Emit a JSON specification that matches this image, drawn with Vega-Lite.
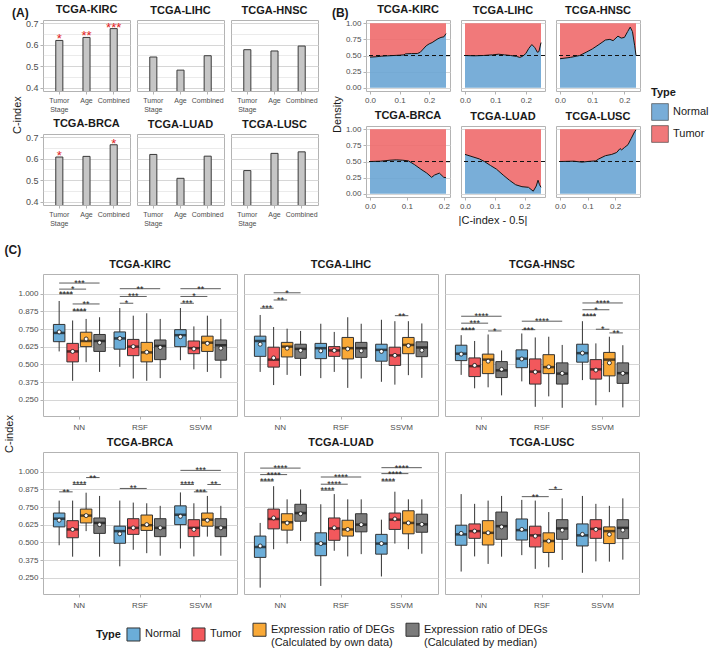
{
  "$schema": "https://vega.github.io/schema/vega-lite/v6.json",
  "padding": {"left": 4, "top": 3, "right": 4, "bottom": 2},
  "background": "white",
  "config": {
    "font": "Liberation Sans",
    "view": {"stroke": "#b3b3b3", "strokeWidth": 1},
    "axis": {"labelFontSize": 8, "labelColor": "#4d4d4d", "titleFontSize": 11, "titleFontWeight": "normal", "titleColor": "#1a1a1a", "gridColor": "#d6d6d6", "domain": false, "tickColor": "#b3b3b3", "tickSize": 3, "labelPadding": 2, "labelOverlap": false},
    "title": {"fontSize": 12, "fontWeight": "bold", "anchor": "start", "color": "#1a1a1a"},
    "legend": {"titleFontSize": 11, "titleFontWeight": "bold", "labelFontSize": 11, "labelColor": "#1a1a1a", "titleColor": "#1a1a1a", "layout": {"bottom": {"anchor": "middle"}, "right": {"anchor": "middle"}}}
  },
  "datasets": {
    "A": [
      {"cancer": "TCGA-KIRC", "feature": "Tumor Stage", "cindex": 0.62, "sig": "*"},
      {"cancer": "TCGA-KIRC", "feature": "Age", "cindex": 0.634, "sig": "**"},
      {"cancer": "TCGA-KIRC", "feature": "Combined", "cindex": 0.675, "sig": "***"},
      {"cancer": "TCGA-LIHC", "feature": "Tumor Stage", "cindex": 0.543, "sig": ""},
      {"cancer": "TCGA-LIHC", "feature": "Age", "cindex": 0.482, "sig": ""},
      {"cancer": "TCGA-LIHC", "feature": "Combined", "cindex": 0.549, "sig": ""},
      {"cancer": "TCGA-HNSC", "feature": "Tumor Stage", "cindex": 0.577, "sig": ""},
      {"cancer": "TCGA-HNSC", "feature": "Age", "cindex": 0.571, "sig": ""},
      {"cancer": "TCGA-HNSC", "feature": "Combined", "cindex": 0.594, "sig": ""},
      {"cancer": "TCGA-BRCA", "feature": "Tumor Stage", "cindex": 0.608, "sig": "*"},
      {"cancer": "TCGA-BRCA", "feature": "Age", "cindex": 0.611, "sig": ""},
      {"cancer": "TCGA-BRCA", "feature": "Combined", "cindex": 0.665, "sig": "*"},
      {"cancer": "TCGA-LUAD", "feature": "Tumor Stage", "cindex": 0.62, "sig": ""},
      {"cancer": "TCGA-LUAD", "feature": "Age", "cindex": 0.509, "sig": ""},
      {"cancer": "TCGA-LUAD", "feature": "Combined", "cindex": 0.612, "sig": ""},
      {"cancer": "TCGA-LUSC", "feature": "Tumor Stage", "cindex": 0.545, "sig": ""},
      {"cancer": "TCGA-LUSC", "feature": "Age", "cindex": 0.625, "sig": ""},
      {"cancer": "TCGA-LUSC", "feature": "Combined", "cindex": 0.632, "sig": ""}
    ],
    "B": [
      {"cancer": "TCGA-KIRC", "x": 0, "normal": 0.475},
      {"cancer": "TCGA-KIRC", "x": 0.02, "normal": 0.48},
      {"cancer": "TCGA-KIRC", "x": 0.04, "normal": 0.49},
      {"cancer": "TCGA-KIRC", "x": 0.06, "normal": 0.495},
      {"cancer": "TCGA-KIRC", "x": 0.08, "normal": 0.5},
      {"cancer": "TCGA-KIRC", "x": 0.1, "normal": 0.505},
      {"cancer": "TCGA-KIRC", "x": 0.115, "normal": 0.51},
      {"cancer": "TCGA-KIRC", "x": 0.12, "normal": 0.525},
      {"cancer": "TCGA-KIRC", "x": 0.14, "normal": 0.53},
      {"cancer": "TCGA-KIRC", "x": 0.16, "normal": 0.53},
      {"cancer": "TCGA-KIRC", "x": 0.17, "normal": 0.55},
      {"cancer": "TCGA-KIRC", "x": 0.18, "normal": 0.6},
      {"cancer": "TCGA-KIRC", "x": 0.19, "normal": 0.65},
      {"cancer": "TCGA-KIRC", "x": 0.2, "normal": 0.68},
      {"cancer": "TCGA-KIRC", "x": 0.21, "normal": 0.7},
      {"cancer": "TCGA-KIRC", "x": 0.22, "normal": 0.73},
      {"cancer": "TCGA-KIRC", "x": 0.23, "normal": 0.76},
      {"cancer": "TCGA-KIRC", "x": 0.24, "normal": 0.78},
      {"cancer": "TCGA-KIRC", "x": 0.25, "normal": 0.79},
      {"cancer": "TCGA-KIRC", "x": 0.257, "normal": 0.84},
      {"cancer": "TCGA-LIHC", "x": 0, "normal": 0.5},
      {"cancer": "TCGA-LIHC", "x": 0.03, "normal": 0.495},
      {"cancer": "TCGA-LIHC", "x": 0.06, "normal": 0.5},
      {"cancer": "TCGA-LIHC", "x": 0.09, "normal": 0.51},
      {"cancer": "TCGA-LIHC", "x": 0.11, "normal": 0.52},
      {"cancer": "TCGA-LIHC", "x": 0.13, "normal": 0.51},
      {"cancer": "TCGA-LIHC", "x": 0.15, "normal": 0.5},
      {"cancer": "TCGA-LIHC", "x": 0.17, "normal": 0.485},
      {"cancer": "TCGA-LIHC", "x": 0.18, "normal": 0.47},
      {"cancer": "TCGA-LIHC", "x": 0.19, "normal": 0.49},
      {"cancer": "TCGA-LIHC", "x": 0.2, "normal": 0.53},
      {"cancer": "TCGA-LIHC", "x": 0.21, "normal": 0.61},
      {"cancer": "TCGA-LIHC", "x": 0.22, "normal": 0.67},
      {"cancer": "TCGA-LIHC", "x": 0.23, "normal": 0.62},
      {"cancer": "TCGA-LIHC", "x": 0.238, "normal": 0.55},
      {"cancer": "TCGA-LIHC", "x": 0.243, "normal": 0.56},
      {"cancer": "TCGA-LIHC", "x": 0.25, "normal": 0.7},
      {"cancer": "TCGA-HNSC", "x": 0, "normal": 0.45},
      {"cancer": "TCGA-HNSC", "x": 0.032, "normal": 0.47},
      {"cancer": "TCGA-HNSC", "x": 0.061, "normal": 0.5},
      {"cancer": "TCGA-HNSC", "x": 0.081, "normal": 0.55},
      {"cancer": "TCGA-HNSC", "x": 0.1, "normal": 0.6},
      {"cancer": "TCGA-HNSC", "x": 0.121, "normal": 0.67},
      {"cancer": "TCGA-HNSC", "x": 0.141, "normal": 0.74},
      {"cancer": "TCGA-HNSC", "x": 0.155, "normal": 0.75},
      {"cancer": "TCGA-HNSC", "x": 0.165, "normal": 0.73},
      {"cancer": "TCGA-HNSC", "x": 0.18, "normal": 0.8},
      {"cancer": "TCGA-HNSC", "x": 0.19, "normal": 0.77},
      {"cancer": "TCGA-HNSC", "x": 0.2, "normal": 0.78},
      {"cancer": "TCGA-HNSC", "x": 0.21, "normal": 0.87},
      {"cancer": "TCGA-HNSC", "x": 0.218, "normal": 0.94},
      {"cancer": "TCGA-HNSC", "x": 0.225, "normal": 0.87},
      {"cancer": "TCGA-HNSC", "x": 0.232, "normal": 0.65},
      {"cancer": "TCGA-HNSC", "x": 0.236, "normal": 0.5},
      {"cancer": "TCGA-BRCA", "x": 0, "normal": 0.5},
      {"cancer": "TCGA-BRCA", "x": 0.029, "normal": 0.505},
      {"cancer": "TCGA-BRCA", "x": 0.054, "normal": 0.52},
      {"cancer": "TCGA-BRCA", "x": 0.071, "normal": 0.525},
      {"cancer": "TCGA-BRCA", "x": 0.088, "normal": 0.52},
      {"cancer": "TCGA-BRCA", "x": 0.104, "normal": 0.51},
      {"cancer": "TCGA-BRCA", "x": 0.121, "normal": 0.45},
      {"cancer": "TCGA-BRCA", "x": 0.138, "normal": 0.38},
      {"cancer": "TCGA-BRCA", "x": 0.154, "normal": 0.32},
      {"cancer": "TCGA-BRCA", "x": 0.167, "normal": 0.255},
      {"cancer": "TCGA-BRCA", "x": 0.175, "normal": 0.29},
      {"cancer": "TCGA-BRCA", "x": 0.188, "normal": 0.32},
      {"cancer": "TCGA-BRCA", "x": 0.2, "normal": 0.255},
      {"cancer": "TCGA-BRCA", "x": 0.206, "normal": 0.25},
      {"cancer": "TCGA-LUAD", "x": 0, "normal": 0.61},
      {"cancer": "TCGA-LUAD", "x": 0.048, "normal": 0.54},
      {"cancer": "TCGA-LUAD", "x": 0.065, "normal": 0.5},
      {"cancer": "TCGA-LUAD", "x": 0.085, "normal": 0.44},
      {"cancer": "TCGA-LUAD", "x": 0.106, "normal": 0.38},
      {"cancer": "TCGA-LUAD", "x": 0.128, "normal": 0.29},
      {"cancer": "TCGA-LUAD", "x": 0.149, "normal": 0.21},
      {"cancer": "TCGA-LUAD", "x": 0.17, "normal": 0.14},
      {"cancer": "TCGA-LUAD", "x": 0.191, "normal": 0.11},
      {"cancer": "TCGA-LUAD", "x": 0.213, "normal": 0.1},
      {"cancer": "TCGA-LUAD", "x": 0.229, "normal": 0.04},
      {"cancer": "TCGA-LUAD", "x": 0.239, "normal": 0.12},
      {"cancer": "TCGA-LUAD", "x": 0.245, "normal": 0.21},
      {"cancer": "TCGA-LUAD", "x": 0.25, "normal": 0.14},
      {"cancer": "TCGA-LUAD", "x": 0.255, "normal": 0.1},
      {"cancer": "TCGA-LUSC", "x": 0, "normal": 0.5},
      {"cancer": "TCGA-LUSC", "x": 0.05, "normal": 0.505},
      {"cancer": "TCGA-LUSC", "x": 0.08, "normal": 0.49},
      {"cancer": "TCGA-LUSC", "x": 0.1, "normal": 0.5},
      {"cancer": "TCGA-LUSC", "x": 0.13, "normal": 0.51},
      {"cancer": "TCGA-LUSC", "x": 0.141, "normal": 0.54},
      {"cancer": "TCGA-LUSC", "x": 0.165, "normal": 0.59},
      {"cancer": "TCGA-LUSC", "x": 0.188, "normal": 0.61},
      {"cancer": "TCGA-LUSC", "x": 0.206, "normal": 0.64},
      {"cancer": "TCGA-LUSC", "x": 0.218, "normal": 0.7},
      {"cancer": "TCGA-LUSC", "x": 0.224, "normal": 0.68},
      {"cancer": "TCGA-LUSC", "x": 0.235, "normal": 0.72},
      {"cancer": "TCGA-LUSC", "x": 0.247, "normal": 0.76},
      {"cancer": "TCGA-LUSC", "x": 0.259, "normal": 0.86},
      {"cancer": "TCGA-LUSC", "x": 0.271, "normal": 0.96},
      {"cancer": "TCGA-LUSC", "x": 0.276, "normal": 0.99}
    ],
    "C": [
      {"kind": "box", "cancer": "TCGA-KIRC", "method": "NN", "Type": "Normal", "min": 0.592, "q1": 0.661, "median": 0.723, "q3": 0.783, "max": 0.949, "mean": 0.73},
      {"kind": "box", "cancer": "TCGA-KIRC", "method": "NN", "Type": "Tumor", "min": 0.384, "q1": 0.518, "median": 0.592, "q3": 0.649, "max": 0.811, "mean": 0.592},
      {"kind": "box", "cancer": "TCGA-KIRC", "method": "NN", "Type": "Expression ratio of DEGs (Calculated by own data)", "min": 0.516, "q1": 0.626, "median": 0.666, "q3": 0.728, "max": 0.822, "mean": 0.68},
      {"kind": "box", "cancer": "TCGA-KIRC", "method": "NN", "Type": "Expression ratio of DEGs (Calculated by median)", "min": 0.447, "q1": 0.592, "median": 0.666, "q3": 0.712, "max": 0.834, "mean": 0.654},
      {"kind": "box", "cancer": "TCGA-KIRC", "method": "RSF", "Type": "Normal", "min": 0.483, "q1": 0.608, "median": 0.684, "q3": 0.73, "max": 0.899, "mean": 0.684},
      {"kind": "box", "cancer": "TCGA-KIRC", "method": "RSF", "Type": "Tumor", "min": 0.4, "q1": 0.562, "median": 0.626, "q3": 0.677, "max": 0.845, "mean": 0.626},
      {"kind": "box", "cancer": "TCGA-KIRC", "method": "RSF", "Type": "Expression ratio of DEGs (Calculated by own data)", "min": 0.384, "q1": 0.518, "median": 0.585, "q3": 0.656, "max": 0.862, "mean": 0.587},
      {"kind": "box", "cancer": "TCGA-KIRC", "method": "RSF", "Type": "Expression ratio of DEGs (Calculated by median)", "min": 0.403, "q1": 0.534, "median": 0.631, "q3": 0.673, "max": 0.822, "mean": 0.62},
      {"kind": "box", "cancer": "TCGA-KIRC", "method": "SSVM", "Type": "Normal", "min": 0.53, "q1": 0.626, "median": 0.707, "q3": 0.746, "max": 0.899, "mean": 0.696},
      {"kind": "box", "cancer": "TCGA-KIRC", "method": "SSVM", "Type": "Tumor", "min": 0.465, "q1": 0.576, "median": 0.615, "q3": 0.666, "max": 0.769, "mean": 0.61},
      {"kind": "box", "cancer": "TCGA-KIRC", "method": "SSVM", "Type": "Expression ratio of DEGs (Calculated by own data)", "min": 0.447, "q1": 0.592, "median": 0.654, "q3": 0.7, "max": 0.845, "mean": 0.649},
      {"kind": "box", "cancer": "TCGA-KIRC", "method": "SSVM", "Type": "Expression ratio of DEGs (Calculated by median)", "min": 0.403, "q1": 0.53, "median": 0.636, "q3": 0.673, "max": 0.822, "mean": 0.615},
      {"kind": "box", "cancer": "TCGA-LIHC", "method": "NN", "Type": "Normal", "min": 0.447, "q1": 0.557, "median": 0.666, "q3": 0.7, "max": 0.85, "mean": 0.643},
      {"kind": "box", "cancer": "TCGA-LIHC", "method": "NN", "Type": "Tumor", "min": 0.354, "q1": 0.481, "median": 0.534, "q3": 0.622, "max": 0.765, "mean": 0.546},
      {"kind": "box", "cancer": "TCGA-LIHC", "method": "NN", "Type": "Expression ratio of DEGs (Calculated by own data)", "min": 0.426, "q1": 0.553, "median": 0.626, "q3": 0.656, "max": 0.753, "mean": 0.615},
      {"kind": "box", "cancer": "TCGA-LIHC", "method": "NN", "Type": "Expression ratio of DEGs (Calculated by median)", "min": 0.419, "q1": 0.543, "median": 0.61, "q3": 0.643, "max": 0.737, "mean": 0.599},
      {"kind": "box", "cancer": "TCGA-LIHC", "method": "RSF", "Type": "Normal", "min": 0.403, "q1": 0.541, "median": 0.615, "q3": 0.649, "max": 0.788, "mean": 0.596},
      {"kind": "box", "cancer": "TCGA-LIHC", "method": "RSF", "Type": "Tumor", "min": 0.447, "q1": 0.557, "median": 0.599, "q3": 0.626, "max": 0.73, "mean": 0.599},
      {"kind": "box", "cancer": "TCGA-LIHC", "method": "RSF", "Type": "Expression ratio of DEGs (Calculated by own data)", "min": 0.334, "q1": 0.539, "median": 0.615, "q3": 0.691, "max": 0.834, "mean": 0.61},
      {"kind": "box", "cancer": "TCGA-LIHC", "method": "RSF", "Type": "Expression ratio of DEGs (Calculated by median)", "min": 0.4, "q1": 0.55, "median": 0.615, "q3": 0.656, "max": 0.788, "mean": 0.596},
      {"kind": "box", "cancer": "TCGA-LIHC", "method": "SSVM", "Type": "Normal", "min": 0.377, "q1": 0.523, "median": 0.603, "q3": 0.643, "max": 0.816, "mean": 0.592},
      {"kind": "box", "cancer": "TCGA-LIHC", "method": "SSVM", "Type": "Tumor", "min": 0.357, "q1": 0.493, "median": 0.564, "q3": 0.622, "max": 0.806, "mean": 0.564},
      {"kind": "box", "cancer": "TCGA-LIHC", "method": "SSVM", "Type": "Expression ratio of DEGs (Calculated by own data)", "min": 0.424, "q1": 0.576, "median": 0.638, "q3": 0.691, "max": 0.806, "mean": 0.633},
      {"kind": "box", "cancer": "TCGA-LIHC", "method": "SSVM", "Type": "Expression ratio of DEGs (Calculated by median)", "min": 0.405, "q1": 0.555, "median": 0.62, "q3": 0.66, "max": 0.79, "mean": 0.6},
      {"kind": "box", "cancer": "TCGA-HNSC", "method": "NN", "Type": "Normal", "min": 0.426, "q1": 0.527, "median": 0.576, "q3": 0.636, "max": 0.707, "mean": 0.573},
      {"kind": "box", "cancer": "TCGA-HNSC", "method": "NN", "Type": "Tumor", "min": 0.331, "q1": 0.414, "median": 0.488, "q3": 0.546, "max": 0.666, "mean": 0.493},
      {"kind": "box", "cancer": "TCGA-HNSC", "method": "NN", "Type": "Expression ratio of DEGs (Calculated by own data)", "min": 0.338, "q1": 0.435, "median": 0.534, "q3": 0.573, "max": 0.712, "mean": 0.523},
      {"kind": "box", "cancer": "TCGA-HNSC", "method": "NN", "Type": "Expression ratio of DEGs (Calculated by median)", "min": 0.281, "q1": 0.407, "median": 0.458, "q3": 0.52, "max": 0.599, "mean": 0.465},
      {"kind": "box", "cancer": "TCGA-HNSC", "method": "RSF", "Type": "Normal", "min": 0.38, "q1": 0.477, "median": 0.541, "q3": 0.603, "max": 0.719, "mean": 0.539},
      {"kind": "box", "cancer": "TCGA-HNSC", "method": "RSF", "Type": "Tumor", "min": 0.2, "q1": 0.361, "median": 0.449, "q3": 0.539, "max": 0.691, "mean": 0.447},
      {"kind": "box", "cancer": "TCGA-HNSC", "method": "RSF", "Type": "Expression ratio of DEGs (Calculated by own data)", "min": 0.274, "q1": 0.435, "median": 0.481, "q3": 0.569, "max": 0.696, "mean": 0.483},
      {"kind": "box", "cancer": "TCGA-HNSC", "method": "RSF", "Type": "Expression ratio of DEGs (Calculated by median)", "min": 0.193, "q1": 0.361, "median": 0.435, "q3": 0.511, "max": 0.638, "mean": 0.437},
      {"kind": "box", "cancer": "TCGA-HNSC", "method": "SSVM", "Type": "Normal", "min": 0.389, "q1": 0.516, "median": 0.58, "q3": 0.643, "max": 0.806, "mean": 0.58},
      {"kind": "box", "cancer": "TCGA-HNSC", "method": "SSVM", "Type": "Tumor", "min": 0.211, "q1": 0.396, "median": 0.465, "q3": 0.534, "max": 0.649, "mean": 0.46},
      {"kind": "box", "cancer": "TCGA-HNSC", "method": "SSVM", "Type": "Expression ratio of DEGs (Calculated by own data)", "min": 0.304, "q1": 0.419, "median": 0.534, "q3": 0.585, "max": 0.696, "mean": 0.511},
      {"kind": "box", "cancer": "TCGA-HNSC", "method": "SSVM", "Type": "Expression ratio of DEGs (Calculated by median)", "min": 0.196, "q1": 0.366, "median": 0.438, "q3": 0.511, "max": 0.636, "mean": 0.437},
      {"kind": "box", "cancer": "TCGA-BRCA", "method": "NN", "Type": "Normal", "min": 0.48, "q1": 0.61, "median": 0.668, "q3": 0.708, "max": 0.796, "mean": 0.657},
      {"kind": "box", "cancer": "TCGA-BRCA", "method": "NN", "Type": "Tumor", "min": 0.399, "q1": 0.533, "median": 0.592, "q3": 0.654, "max": 0.796, "mean": 0.592},
      {"kind": "box", "cancer": "TCGA-BRCA", "method": "NN", "Type": "Expression ratio of DEGs (Calculated by own data)", "min": 0.58, "q1": 0.638, "median": 0.69, "q3": 0.736, "max": 0.852, "mean": 0.69},
      {"kind": "box", "cancer": "TCGA-BRCA", "method": "NN", "Type": "Expression ratio of DEGs (Calculated by median)", "min": 0.399, "q1": 0.564, "median": 0.638, "q3": 0.673, "max": 0.829, "mean": 0.626},
      {"kind": "box", "cancer": "TCGA-BRCA", "method": "RSF", "Type": "Normal", "min": 0.331, "q1": 0.494, "median": 0.58, "q3": 0.615, "max": 0.796, "mean": 0.561},
      {"kind": "box", "cancer": "TCGA-BRCA", "method": "RSF", "Type": "Tumor", "min": 0.448, "q1": 0.557, "median": 0.603, "q3": 0.668, "max": 0.782, "mean": 0.603},
      {"kind": "box", "cancer": "TCGA-BRCA", "method": "RSF", "Type": "Expression ratio of DEGs (Calculated by own data)", "min": 0.424, "q1": 0.585, "median": 0.622, "q3": 0.694, "max": 0.777, "mean": 0.626},
      {"kind": "box", "cancer": "TCGA-BRCA", "method": "RSF", "Type": "Expression ratio of DEGs (Calculated by median)", "min": 0.406, "q1": 0.541, "median": 0.603, "q3": 0.668, "max": 0.759, "mean": 0.603},
      {"kind": "box", "cancer": "TCGA-BRCA", "method": "SSVM", "Type": "Normal", "min": 0.457, "q1": 0.626, "median": 0.696, "q3": 0.759, "max": 0.854, "mean": 0.685},
      {"kind": "box", "cancer": "TCGA-BRCA", "method": "SSVM", "Type": "Tumor", "min": 0.401, "q1": 0.541, "median": 0.603, "q3": 0.661, "max": 0.777, "mean": 0.592},
      {"kind": "box", "cancer": "TCGA-BRCA", "method": "SSVM", "Type": "Expression ratio of DEGs (Calculated by own data)", "min": 0.541, "q1": 0.615, "median": 0.661, "q3": 0.708, "max": 0.829, "mean": 0.657},
      {"kind": "box", "cancer": "TCGA-BRCA", "method": "SSVM", "Type": "Expression ratio of DEGs (Calculated by median)", "min": 0.406, "q1": 0.541, "median": 0.606, "q3": 0.668, "max": 0.759, "mean": 0.603},
      {"kind": "box", "cancer": "TCGA-LUAD", "method": "NN", "Type": "Normal", "min": 0.18, "q1": 0.394, "median": 0.468, "q3": 0.545, "max": 0.638, "mean": 0.475},
      {"kind": "box", "cancer": "TCGA-LUAD", "method": "NN", "Type": "Tumor", "min": 0.452, "q1": 0.596, "median": 0.666, "q3": 0.736, "max": 0.898, "mean": 0.673},
      {"kind": "box", "cancer": "TCGA-LUAD", "method": "NN", "Type": "Expression ratio of DEGs (Calculated by own data)", "min": 0.492, "q1": 0.587, "median": 0.643, "q3": 0.703, "max": 0.805, "mean": 0.638},
      {"kind": "box", "cancer": "TCGA-LUAD", "method": "NN", "Type": "Expression ratio of DEGs (Calculated by median)", "min": 0.51, "q1": 0.65, "median": 0.708, "q3": 0.77, "max": 0.875, "mean": 0.703},
      {"kind": "box", "cancer": "TCGA-LUAD", "method": "RSF", "Type": "Normal", "min": 0.192, "q1": 0.406, "median": 0.492, "q3": 0.568, "max": 0.77, "mean": 0.492},
      {"kind": "box", "cancer": "TCGA-LUAD", "method": "RSF", "Type": "Tumor", "min": 0.441, "q1": 0.515, "median": 0.599, "q3": 0.673, "max": 0.842, "mean": 0.603},
      {"kind": "box", "cancer": "TCGA-LUAD", "method": "RSF", "Type": "Expression ratio of DEGs (Calculated by own data)", "min": 0.401, "q1": 0.545, "median": 0.592, "q3": 0.657, "max": 0.805, "mean": 0.592},
      {"kind": "box", "cancer": "TCGA-LUAD", "method": "RSF", "Type": "Expression ratio of DEGs (Calculated by median)", "min": 0.417, "q1": 0.575, "median": 0.626, "q3": 0.703, "max": 0.805, "mean": 0.626},
      {"kind": "box", "cancer": "TCGA-LUAD", "method": "SSVM", "Type": "Normal", "min": 0.259, "q1": 0.417, "median": 0.492, "q3": 0.557, "max": 0.661, "mean": 0.492},
      {"kind": "box", "cancer": "TCGA-LUAD", "method": "SSVM", "Type": "Tumor", "min": 0.492, "q1": 0.592, "median": 0.661, "q3": 0.708, "max": 0.859, "mean": 0.666},
      {"kind": "box", "cancer": "TCGA-LUAD", "method": "SSVM", "Type": "Expression ratio of DEGs (Calculated by own data)", "min": 0.452, "q1": 0.561, "median": 0.638, "q3": 0.724, "max": 0.805, "mean": 0.638},
      {"kind": "box", "cancer": "TCGA-LUAD", "method": "SSVM", "Type": "Expression ratio of DEGs (Calculated by median)", "min": 0.42, "q1": 0.572, "median": 0.628, "q3": 0.7, "max": 0.805, "mean": 0.628},
      {"kind": "box", "cancer": "TCGA-LUSC", "method": "NN", "Type": "Normal", "min": 0.294, "q1": 0.48, "median": 0.557, "q3": 0.622, "max": 0.842, "mean": 0.564},
      {"kind": "box", "cancer": "TCGA-LUSC", "method": "NN", "Type": "Tumor", "min": 0.401, "q1": 0.529, "median": 0.58, "q3": 0.631, "max": 0.773, "mean": 0.58},
      {"kind": "box", "cancer": "TCGA-LUSC", "method": "NN", "Type": "Expression ratio of DEGs (Calculated by own data)", "min": 0.348, "q1": 0.482, "median": 0.568, "q3": 0.654, "max": 0.796, "mean": 0.568},
      {"kind": "box", "cancer": "TCGA-LUSC", "method": "NN", "Type": "Expression ratio of DEGs (Calculated by median)", "min": 0.399, "q1": 0.522, "median": 0.615, "q3": 0.715, "max": 0.829, "mean": 0.61},
      {"kind": "box", "cancer": "TCGA-LUSC", "method": "RSF", "Type": "Normal", "min": 0.41, "q1": 0.517, "median": 0.587, "q3": 0.666, "max": 0.801, "mean": 0.592},
      {"kind": "box", "cancer": "TCGA-LUSC", "method": "RSF", "Type": "Tumor", "min": 0.313, "q1": 0.468, "median": 0.55, "q3": 0.615, "max": 0.796, "mean": 0.545},
      {"kind": "box", "cancer": "TCGA-LUSC", "method": "RSF", "Type": "Expression ratio of DEGs (Calculated by own data)", "min": 0.324, "q1": 0.429, "median": 0.51, "q3": 0.568, "max": 0.715, "mean": 0.51},
      {"kind": "box", "cancer": "TCGA-LUSC", "method": "RSF", "Type": "Expression ratio of DEGs (Calculated by median)", "min": 0.376, "q1": 0.522, "median": 0.599, "q3": 0.661, "max": 0.812, "mean": 0.587},
      {"kind": "box", "cancer": "TCGA-LUSC", "method": "SSVM", "Type": "Normal", "min": 0.285, "q1": 0.475, "median": 0.55, "q3": 0.631, "max": 0.829, "mean": 0.557},
      {"kind": "box", "cancer": "TCGA-LUSC", "method": "SSVM", "Type": "Tumor", "min": 0.366, "q1": 0.529, "median": 0.596, "q3": 0.661, "max": 0.773, "mean": 0.592},
      {"kind": "box", "cancer": "TCGA-LUSC", "method": "SSVM", "Type": "Expression ratio of DEGs (Calculated by own data)", "min": 0.364, "q1": 0.492, "median": 0.58, "q3": 0.61, "max": 0.759, "mean": 0.557},
      {"kind": "box", "cancer": "TCGA-LUSC", "method": "SSVM", "Type": "Expression ratio of DEGs (Calculated by median)", "min": 0.378, "q1": 0.527, "median": 0.603, "q3": 0.661, "max": 0.812, "mean": 0.587},
      {"kind": "sig", "cancer": "TCGA-KIRC", "method": "NN", "id": "k1", "from": "Normal", "to": "Expression ratio of DEGs (Calculated by median)", "mid": "T|O", "y": 1.076, "label": "***"},
      {"kind": "sig", "cancer": "TCGA-KIRC", "method": "NN", "id": "k2", "from": "Normal", "to": "Expression ratio of DEGs (Calculated by own data)", "mid": "Tumor", "y": 1.033, "label": "*"},
      {"kind": "sig", "cancer": "TCGA-KIRC", "method": "NN", "id": "k3", "from": "Normal", "to": "Tumor", "mid": "N|T", "y": 1.0, "label": "****"},
      {"kind": "sig", "cancer": "TCGA-KIRC", "method": "NN", "id": "k4", "from": "Tumor", "to": "Expression ratio of DEGs (Calculated by median)", "mid": "Expression ratio of DEGs (Calculated by own data)", "y": 0.928, "label": "**"},
      {"kind": "sig", "cancer": "TCGA-KIRC", "method": "NN", "id": "k5", "from": "Tumor", "to": "Expression ratio of DEGs (Calculated by own data)", "mid": "T|O", "y": 0.88, "label": "****"},
      {"kind": "sig", "cancer": "TCGA-KIRC", "method": "RSF", "id": "k6", "from": "Normal", "to": "Expression ratio of DEGs (Calculated by median)", "mid": "T|O", "y": 1.036, "label": "**"},
      {"kind": "sig", "cancer": "TCGA-KIRC", "method": "RSF", "id": "k7", "from": "Normal", "to": "Expression ratio of DEGs (Calculated by own data)", "mid": "Tumor", "y": 0.981, "label": "***"},
      {"kind": "sig", "cancer": "TCGA-KIRC", "method": "RSF", "id": "k8", "from": "Normal", "to": "Tumor", "mid": "N|T", "y": 0.933, "label": "*"},
      {"kind": "sig", "cancer": "TCGA-KIRC", "method": "SSVM", "id": "k9", "from": "Normal", "to": "Expression ratio of DEGs (Calculated by median)", "mid": "T|O", "y": 1.036, "label": "**"},
      {"kind": "sig", "cancer": "TCGA-KIRC", "method": "SSVM", "id": "k10", "from": "Normal", "to": "Expression ratio of DEGs (Calculated by own data)", "mid": "Tumor", "y": 0.981, "label": "*"},
      {"kind": "sig", "cancer": "TCGA-KIRC", "method": "SSVM", "id": "k11", "from": "Normal", "to": "Tumor", "mid": "N|T", "y": 0.933, "label": "***"},
      {"kind": "sig", "cancer": "TCGA-LIHC", "method": "NN", "id": "l1", "from": "Normal", "to": "Tumor", "mid": "N|T", "y": 0.898, "label": "***"},
      {"kind": "sig", "cancer": "TCGA-LIHC", "method": "NN", "id": "l2", "from": "Tumor", "to": "Expression ratio of DEGs (Calculated by own data)", "mid": "T|O", "y": 0.956, "label": "**"},
      {"kind": "sig", "cancer": "TCGA-LIHC", "method": "NN", "id": "l3", "from": "Tumor", "to": "Expression ratio of DEGs (Calculated by median)", "mid": "Expression ratio of DEGs (Calculated by own data)", "y": 1.007, "label": "*"},
      {"kind": "sig", "cancer": "TCGA-LIHC", "method": "SSVM", "id": "l4", "from": "Tumor", "to": "Expression ratio of DEGs (Calculated by own data)", "mid": "T|O", "y": 0.845, "label": "**"},
      {"kind": "sig", "cancer": "TCGA-HNSC", "method": "NN", "id": "h1", "from": "Normal", "to": "Expression ratio of DEGs (Calculated by median)", "mid": "T|O", "y": 0.841, "label": "****"},
      {"kind": "sig", "cancer": "TCGA-HNSC", "method": "NN", "id": "h2", "from": "Normal", "to": "Expression ratio of DEGs (Calculated by own data)", "mid": "Tumor", "y": 0.792, "label": "***"},
      {"kind": "sig", "cancer": "TCGA-HNSC", "method": "NN", "id": "h3", "from": "Normal", "to": "Tumor", "mid": "N|T", "y": 0.746, "label": "****"},
      {"kind": "sig", "cancer": "TCGA-HNSC", "method": "NN", "id": "h4", "from": "Expression ratio of DEGs (Calculated by own data)", "to": "Expression ratio of DEGs (Calculated by median)", "mid": "O|G", "y": 0.737, "label": "*"},
      {"kind": "sig", "cancer": "TCGA-HNSC", "method": "RSF", "id": "h5", "from": "Normal", "to": "Expression ratio of DEGs (Calculated by median)", "mid": "T|O", "y": 0.806, "label": "****"},
      {"kind": "sig", "cancer": "TCGA-HNSC", "method": "RSF", "id": "h6", "from": "Normal", "to": "Tumor", "mid": "N|T", "y": 0.746, "label": "***"},
      {"kind": "sig", "cancer": "TCGA-HNSC", "method": "SSVM", "id": "h7", "from": "Normal", "to": "Expression ratio of DEGs (Calculated by median)", "mid": "T|O", "y": 0.935, "label": "****"},
      {"kind": "sig", "cancer": "TCGA-HNSC", "method": "SSVM", "id": "h8", "from": "Normal", "to": "Expression ratio of DEGs (Calculated by own data)", "mid": "Tumor", "y": 0.887, "label": "*"},
      {"kind": "sig", "cancer": "TCGA-HNSC", "method": "SSVM", "id": "h9", "from": "Normal", "to": "Tumor", "mid": "N|T", "y": 0.845, "label": "****"},
      {"kind": "sig", "cancer": "TCGA-HNSC", "method": "SSVM", "id": "h10", "from": "Tumor", "to": "Expression ratio of DEGs (Calculated by own data)", "mid": "T|O", "y": 0.749, "label": "*"},
      {"kind": "sig", "cancer": "TCGA-HNSC", "method": "SSVM", "id": "h11", "from": "Expression ratio of DEGs (Calculated by own data)", "to": "Expression ratio of DEGs (Calculated by median)", "mid": "O|G", "y": 0.723, "label": "**"},
      {"kind": "sig", "cancer": "TCGA-BRCA", "method": "NN", "id": "b1", "from": "Normal", "to": "Tumor", "mid": "N|T", "y": 0.858, "label": "**"},
      {"kind": "sig", "cancer": "TCGA-BRCA", "method": "NN", "id": "b2", "from": "Tumor", "to": "Expression ratio of DEGs (Calculated by own data)", "mid": "T|O", "y": 0.91, "label": "****"},
      {"kind": "sig", "cancer": "TCGA-BRCA", "method": "NN", "id": "b3", "from": "Expression ratio of DEGs (Calculated by own data)", "to": "Expression ratio of DEGs (Calculated by median)", "mid": "O|G", "y": 0.959, "label": "**"},
      {"kind": "sig", "cancer": "TCGA-BRCA", "method": "RSF", "id": "b4", "from": "Normal", "to": "Expression ratio of DEGs (Calculated by own data)", "mid": "Tumor", "y": 0.882, "label": "**"},
      {"kind": "sig", "cancer": "TCGA-BRCA", "method": "SSVM", "id": "b5", "from": "Normal", "to": "Expression ratio of DEGs (Calculated by median)", "mid": "T|O", "y": 1.01, "label": "***"},
      {"kind": "sig", "cancer": "TCGA-BRCA", "method": "SSVM", "id": "b6", "from": "Normal", "to": "Tumor", "mid": "N|T", "y": 0.91, "label": "****"},
      {"kind": "sig", "cancer": "TCGA-BRCA", "method": "SSVM", "id": "b7", "from": "Expression ratio of DEGs (Calculated by own data)", "to": "Expression ratio of DEGs (Calculated by median)", "mid": "O|G", "y": 0.91, "label": "**"},
      {"kind": "sig", "cancer": "TCGA-BRCA", "method": "SSVM", "id": "b8", "from": "Tumor", "to": "Expression ratio of DEGs (Calculated by own data)", "mid": "T|O", "y": 0.858, "label": "***"},
      {"kind": "sig", "cancer": "TCGA-LUAD", "method": "NN", "id": "a1", "from": "Normal", "to": "Expression ratio of DEGs (Calculated by median)", "mid": "T|O", "y": 1.026, "label": "****"},
      {"kind": "sig", "cancer": "TCGA-LUAD", "method": "NN", "id": "a2", "from": "Normal", "to": "Expression ratio of DEGs (Calculated by own data)", "mid": "Tumor", "y": 0.98, "label": "****"},
      {"kind": "sig", "cancer": "TCGA-LUAD", "method": "NN", "id": "a3", "from": "Normal", "to": "Tumor", "mid": "N|T", "y": 0.935, "label": "****"},
      {"kind": "sig", "cancer": "TCGA-LUAD", "method": "RSF", "id": "a4", "from": "Normal", "to": "Expression ratio of DEGs (Calculated by median)", "mid": "T|O", "y": 0.963, "label": "****"},
      {"kind": "sig", "cancer": "TCGA-LUAD", "method": "RSF", "id": "a5", "from": "Normal", "to": "Expression ratio of DEGs (Calculated by own data)", "mid": "Tumor", "y": 0.912, "label": "****"},
      {"kind": "sig", "cancer": "TCGA-LUAD", "method": "RSF", "id": "a6", "from": "Normal", "to": "Tumor", "mid": "N|T", "y": 0.87, "label": "****"},
      {"kind": "sig", "cancer": "TCGA-LUAD", "method": "SSVM", "id": "a7", "from": "Normal", "to": "Expression ratio of DEGs (Calculated by median)", "mid": "T|O", "y": 1.029, "label": "****"},
      {"kind": "sig", "cancer": "TCGA-LUAD", "method": "SSVM", "id": "a8", "from": "Normal", "to": "Expression ratio of DEGs (Calculated by own data)", "mid": "Tumor", "y": 0.987, "label": "****"},
      {"kind": "sig", "cancer": "TCGA-LUAD", "method": "SSVM", "id": "a9", "from": "Normal", "to": "Tumor", "mid": "N|T", "y": 0.935, "label": "****"},
      {"kind": "sig", "cancer": "TCGA-LUSC", "method": "RSF", "id": "s1", "from": "Normal", "to": "Expression ratio of DEGs (Calculated by own data)", "mid": "Tumor", "y": 0.824, "label": "**"},
      {"kind": "sig", "cancer": "TCGA-LUSC", "method": "RSF", "id": "s2", "from": "Expression ratio of DEGs (Calculated by own data)", "to": "Expression ratio of DEGs (Calculated by median)", "mid": "O|G", "y": 0.875, "label": "*"}
    ]
  },
  "resolve": {"scale": {"color": "independent"}},
  "spacing": 16,
  "vconcat": [
    {
      "spacing": 12,
      "hconcat": [
        {
          "title": {"text": "(A)", "offset": -16, "frame": "bounds"},
          "data": {"name": "A"},
          "vconcat": [
            {
              "title": {"text": "C-index", "orient": "left", "anchor": "middle", "fontSize": 11, "fontWeight": "normal", "offset": 2},
              "spacing": 4,
              "vconcat": [
                {
                  "spacing": 5,
                  "hconcat": [
                    {"title": {"text": "TCGA-KIRC", "anchor": "middle", "frame": "group", "fontSize": 11, "offset": 4}, "transform": [{"filter": "datum.cancer == 'TCGA-KIRC'"}], "width": 87, "height": 71,
                     "encoding": {"x": {"field": "feature", "type": "nominal", "sort": ["Tumor Stage", "Age", "Combined"], "scale": {"paddingInner": 0.74, "paddingOuter": 0.47}, "axis": {"title": null, "labelAngle": 0, "labelFontSize": 7, "labelExpr": "datum.label == 'Tumor Stage' ? ['Tumor', 'Stage'] : datum.label", "grid": false}},
                                  "y": {"field": "cindex", "type": "quantitative", "title": null, "scale": {"domain": [0.385, 0.715], "nice": false, "zero": false}, "axis": {"values": [0.4, 0.45, 0.5, 0.55, 0.6, 0.65, 0.7], "labelOverlap": false, "labelFontSize": 9, "labelExpr": "round(datum.value * 100) % 10 == 0 ? format(datum.value, '.1f') : ''", "gridWidth": {"condition": {"test": "round(datum.value * 100) % 10 != 0", "value": 0.5}, "value": 1}, "tickOpacity": {"condition": {"test": "round(datum.value * 100) % 10 != 0", "value": 0}, "value": 1}}}},
                     "layer": [
                       {"mark": {"type": "bar", "fill": "#c6c6c6", "stroke": "#3a3a3a", "strokeWidth": 1, "clip": true}},
                       {"mark": {"type": "text", "color": "#e0201c", "fontSize": 13, "baseline": "alphabetic", "dy": 3}, "encoding": {"text": {"field": "sig"}}}
                     ]},
                    {"title": {"text": "TCGA-LIHC", "anchor": "middle", "frame": "group", "fontSize": 11, "offset": 4}, "transform": [{"filter": "datum.cancer == 'TCGA-LIHC'"}], "width": 87, "height": 71,
                     "mark": {"type": "bar", "fill": "#c6c6c6", "stroke": "#3a3a3a", "strokeWidth": 1, "clip": true},
                     "encoding": {"x": {"field": "feature", "type": "nominal", "sort": ["Tumor Stage", "Age", "Combined"], "scale": {"paddingInner": 0.74, "paddingOuter": 0.47}, "axis": {"title": null, "labelAngle": 0, "labelFontSize": 7, "labelExpr": "datum.label == 'Tumor Stage' ? ['Tumor', 'Stage'] : datum.label", "grid": false}},
                                  "y": {"field": "cindex", "type": "quantitative", "title": null, "scale": {"domain": [0.385, 0.715], "nice": false, "zero": false}, "axis": {"values": [0.4, 0.45, 0.5, 0.55, 0.6, 0.65, 0.7], "labels": false, "ticks": false, "gridWidth": {"condition": {"test": "round(datum.value * 100) % 10 != 0", "value": 0.5}, "value": 1}}}}},
                    {"title": {"text": "TCGA-HNSC", "anchor": "middle", "frame": "group", "fontSize": 11, "offset": 4}, "transform": [{"filter": "datum.cancer == 'TCGA-HNSC'"}], "width": 87, "height": 71,
                     "mark": {"type": "bar", "fill": "#c6c6c6", "stroke": "#3a3a3a", "strokeWidth": 1, "clip": true},
                     "encoding": {"x": {"field": "feature", "type": "nominal", "sort": ["Tumor Stage", "Age", "Combined"], "scale": {"paddingInner": 0.74, "paddingOuter": 0.47}, "axis": {"title": null, "labelAngle": 0, "labelFontSize": 7, "labelExpr": "datum.label == 'Tumor Stage' ? ['Tumor', 'Stage'] : datum.label", "grid": false}},
                                  "y": {"field": "cindex", "type": "quantitative", "title": null, "scale": {"domain": [0.385, 0.715], "nice": false, "zero": false}, "axis": {"values": [0.4, 0.45, 0.5, 0.55, 0.6, 0.65, 0.7], "labels": false, "ticks": false, "gridWidth": {"condition": {"test": "round(datum.value * 100) % 10 != 0", "value": 0.5}, "value": 1}}}}}
                  ]
                },
                {
                  "spacing": 5,
                  "hconcat": [
                    {"title": {"text": "TCGA-BRCA", "anchor": "middle", "frame": "group", "fontSize": 11, "offset": 4}, "transform": [{"filter": "datum.cancer == 'TCGA-BRCA'"}], "width": 87, "height": 71,
                     "encoding": {"x": {"field": "feature", "type": "nominal", "sort": ["Tumor Stage", "Age", "Combined"], "scale": {"paddingInner": 0.74, "paddingOuter": 0.47}, "axis": {"title": null, "labelAngle": 0, "labelFontSize": 7, "labelExpr": "datum.label == 'Tumor Stage' ? ['Tumor', 'Stage'] : datum.label", "grid": false}},
                                  "y": {"field": "cindex", "type": "quantitative", "title": null, "scale": {"domain": [0.385, 0.715], "nice": false, "zero": false}, "axis": {"values": [0.4, 0.45, 0.5, 0.55, 0.6, 0.65, 0.7], "labelOverlap": false, "labelFontSize": 9, "labelExpr": "round(datum.value * 100) % 10 == 0 ? format(datum.value, '.1f') : ''", "gridWidth": {"condition": {"test": "round(datum.value * 100) % 10 != 0", "value": 0.5}, "value": 1}, "tickOpacity": {"condition": {"test": "round(datum.value * 100) % 10 != 0", "value": 0}, "value": 1}}}},
                     "layer": [
                       {"mark": {"type": "bar", "fill": "#c6c6c6", "stroke": "#3a3a3a", "strokeWidth": 1, "clip": true}},
                       {"mark": {"type": "text", "color": "#e0201c", "fontSize": 13, "baseline": "alphabetic", "dy": 3}, "encoding": {"text": {"field": "sig"}}}
                     ]},
                    {"title": {"text": "TCGA-LUAD", "anchor": "middle", "frame": "group", "fontSize": 11, "offset": 4}, "transform": [{"filter": "datum.cancer == 'TCGA-LUAD'"}], "width": 87, "height": 71,
                     "mark": {"type": "bar", "fill": "#c6c6c6", "stroke": "#3a3a3a", "strokeWidth": 1, "clip": true},
                     "encoding": {"x": {"field": "feature", "type": "nominal", "sort": ["Tumor Stage", "Age", "Combined"], "scale": {"paddingInner": 0.74, "paddingOuter": 0.47}, "axis": {"title": null, "labelAngle": 0, "labelFontSize": 7, "labelExpr": "datum.label == 'Tumor Stage' ? ['Tumor', 'Stage'] : datum.label", "grid": false}},
                                  "y": {"field": "cindex", "type": "quantitative", "title": null, "scale": {"domain": [0.385, 0.715], "nice": false, "zero": false}, "axis": {"values": [0.4, 0.45, 0.5, 0.55, 0.6, 0.65, 0.7], "labels": false, "ticks": false, "gridWidth": {"condition": {"test": "round(datum.value * 100) % 10 != 0", "value": 0.5}, "value": 1}}}}},
                    {"title": {"text": "TCGA-LUSC", "anchor": "middle", "frame": "group", "fontSize": 11, "offset": 4}, "transform": [{"filter": "datum.cancer == 'TCGA-LUSC'"}], "width": 87, "height": 71,
                     "mark": {"type": "bar", "fill": "#c6c6c6", "stroke": "#3a3a3a", "strokeWidth": 1, "clip": true},
                     "encoding": {"x": {"field": "feature", "type": "nominal", "sort": ["Tumor Stage", "Age", "Combined"], "scale": {"paddingInner": 0.74, "paddingOuter": 0.47}, "axis": {"title": null, "labelAngle": 0, "labelFontSize": 7, "labelExpr": "datum.label == 'Tumor Stage' ? ['Tumor', 'Stage'] : datum.label", "grid": false}},
                                  "y": {"field": "cindex", "type": "quantitative", "title": null, "scale": {"domain": [0.385, 0.715], "nice": false, "zero": false}, "axis": {"values": [0.4, 0.45, 0.5, 0.55, 0.6, 0.65, 0.7], "labels": false, "ticks": false, "gridWidth": {"condition": {"test": "round(datum.value * 100) % 10 != 0", "value": 0.5}, "value": 1}}}}}
                  ]
                }
              ]
            }
          ]
        },
        {
          "title": {"text": "(B)", "offset": -16, "frame": "bounds"},
          "data": {"name": "B"},
          "vconcat": [
            {
              "title": {"text": "Density", "orient": "left", "anchor": "middle", "fontSize": 11, "fontWeight": "normal", "offset": 2},
              "vconcat": [
                {
                  "title": {"text": "|C-index - 0.5|", "orient": "bottom", "anchor": "middle", "fontSize": 11, "fontWeight": "normal", "offset": 4},
                  "spacing": 4,
                  "vconcat": [
                    {
                      "spacing": 7,
                      "hconcat": [
                        {"title": {"text": "TCGA-KIRC", "anchor": "middle", "frame": "group", "fontSize": 11, "offset": 4}, "transform": [{"filter": "datum.cancer == 'TCGA-KIRC'"}], "width": 84, "height": 71,
                         "layer": [
                           {"mark": {"type": "area", "opacity": 0.9}, "encoding": {"x": {"field": "x", "type": "quantitative", "scale": {"nice": false, "zero": false, "padding": 4}, "axis": {"title": null, "values": [0, 0.1, 0.2], "format": ".1f", "grid": false}}, "y": {"field": "normal", "type": "quantitative", "title": null, "scale": {"domain": [-0.05, 1.05], "nice": false}, "axis": {"values": [0, 0.25, 0.5, 0.75, 1], "format": ".2f", "labelOverlap": false}}, "y2": {"datum": 0}, "color": {"datum": "Normal", "type": "nominal", "scale": {"domain": ["Normal", "Tumor"], "range": ["#6aa5d4", "#ef6a6c"]}, "legend": {"title": "Type", "orient": "right", "symbolType": "square", "symbolSize": 280, "symbolStrokeColor": "#222222", "symbolStrokeWidth": 0.6, "symbolOpacity": 0.9, "offset": 10, "rowPadding": 2}}}},
                           {"mark": {"type": "area", "opacity": 0.9}, "encoding": {"x": {"field": "x", "type": "quantitative"}, "y": {"field": "normal", "type": "quantitative", "title": null, "axis": {"values": [0, 0.25, 0.5, 0.75, 1], "format": ".2f", "labelOverlap": false}}, "y2": {"datum": 1}, "color": {"datum": "Tumor", "type": "nominal"}}},
                           {"mark": {"type": "line", "color": "#111111", "strokeWidth": 1}, "encoding": {"x": {"field": "x", "type": "quantitative"}, "y": {"field": "normal", "type": "quantitative", "title": null, "axis": {"values": [0, 0.25, 0.5, 0.75, 1], "format": ".2f", "labelOverlap": false}}}},
                           {"mark": {"type": "rule", "color": "#111111", "strokeDash": [4, 3], "strokeWidth": 1}, "encoding": {"y": {"datum": 0.5, "type": "quantitative", "title": null, "axis": {"values": [0, 0.25, 0.5, 0.75, 1], "format": ".2f", "labelOverlap": false}}}}
                         ]},
                        {"title": {"text": "TCGA-LIHC", "anchor": "middle", "frame": "group", "fontSize": 11, "offset": 4}, "transform": [{"filter": "datum.cancer == 'TCGA-LIHC'"}], "width": 84, "height": 71,
                         "layer": [
                           {"mark": {"type": "area", "opacity": 0.9}, "encoding": {"x": {"field": "x", "type": "quantitative", "scale": {"nice": false, "zero": false, "padding": 4}, "axis": {"title": null, "values": [0, 0.1, 0.2], "format": ".1f", "grid": false}}, "y": {"field": "normal", "type": "quantitative", "title": null, "scale": {"domain": [-0.05, 1.05], "nice": false}, "axis": {"values": [0, 0.25, 0.5, 0.75, 1], "labels": false, "ticks": false}}, "y2": {"datum": 0}, "color": {"datum": "Normal", "type": "nominal"}}},
                           {"mark": {"type": "area", "opacity": 0.9}, "encoding": {"x": {"field": "x", "type": "quantitative"}, "y": {"field": "normal", "type": "quantitative", "title": null}, "y2": {"datum": 1}, "color": {"datum": "Tumor", "type": "nominal"}}},
                           {"mark": {"type": "line", "color": "#111111", "strokeWidth": 1}, "encoding": {"x": {"field": "x", "type": "quantitative"}, "y": {"field": "normal", "type": "quantitative", "title": null}}},
                           {"mark": {"type": "rule", "color": "#111111", "strokeDash": [4, 3], "strokeWidth": 1}, "encoding": {"y": {"datum": 0.5}}}
                         ]},
                        {"title": {"text": "TCGA-HNSC", "anchor": "middle", "frame": "group", "fontSize": 11, "offset": 4}, "transform": [{"filter": "datum.cancer == 'TCGA-HNSC'"}], "width": 84, "height": 71,
                         "layer": [
                           {"mark": {"type": "area", "opacity": 0.9}, "encoding": {"x": {"field": "x", "type": "quantitative", "scale": {"nice": false, "zero": false, "padding": 4}, "axis": {"title": null, "values": [0, 0.1, 0.2], "format": ".1f", "grid": false}}, "y": {"field": "normal", "type": "quantitative", "title": null, "scale": {"domain": [-0.05, 1.05], "nice": false}, "axis": {"values": [0, 0.25, 0.5, 0.75, 1], "labels": false, "ticks": false}}, "y2": {"datum": 0}, "color": {"datum": "Normal", "type": "nominal"}}},
                           {"mark": {"type": "area", "opacity": 0.9}, "encoding": {"x": {"field": "x", "type": "quantitative"}, "y": {"field": "normal", "type": "quantitative", "title": null}, "y2": {"datum": 1}, "color": {"datum": "Tumor", "type": "nominal"}}},
                           {"mark": {"type": "line", "color": "#111111", "strokeWidth": 1}, "encoding": {"x": {"field": "x", "type": "quantitative"}, "y": {"field": "normal", "type": "quantitative", "title": null}}},
                           {"mark": {"type": "rule", "color": "#111111", "strokeDash": [4, 3], "strokeWidth": 1}, "encoding": {"y": {"datum": 0.5}}}
                         ]}
                      ]
                    },
                    {
                      "spacing": 7,
                      "hconcat": [
                        {"title": {"text": "TCGA-BRCA", "anchor": "middle", "frame": "group", "fontSize": 11, "offset": 4}, "transform": [{"filter": "datum.cancer == 'TCGA-BRCA'"}], "width": 84, "height": 71,
                         "layer": [
                           {"mark": {"type": "area", "opacity": 0.9}, "encoding": {"x": {"field": "x", "type": "quantitative", "scale": {"nice": false, "zero": false, "padding": 4}, "axis": {"title": null, "values": [0, 0.1, 0.2], "format": ".1f", "grid": false}}, "y": {"field": "normal", "type": "quantitative", "title": null, "scale": {"domain": [-0.05, 1.05], "nice": false}, "axis": {"values": [0, 0.25, 0.5, 0.75, 1], "format": ".2f", "labelOverlap": false}}, "y2": {"datum": 0}, "color": {"datum": "Normal", "type": "nominal"}}},
                           {"mark": {"type": "area", "opacity": 0.9}, "encoding": {"x": {"field": "x", "type": "quantitative"}, "y": {"field": "normal", "type": "quantitative", "title": null, "axis": {"values": [0, 0.25, 0.5, 0.75, 1], "format": ".2f", "labelOverlap": false}}, "y2": {"datum": 1}, "color": {"datum": "Tumor", "type": "nominal"}}},
                           {"mark": {"type": "line", "color": "#111111", "strokeWidth": 1}, "encoding": {"x": {"field": "x", "type": "quantitative"}, "y": {"field": "normal", "type": "quantitative", "title": null, "axis": {"values": [0, 0.25, 0.5, 0.75, 1], "format": ".2f", "labelOverlap": false}}}},
                           {"mark": {"type": "rule", "color": "#111111", "strokeDash": [4, 3], "strokeWidth": 1}, "encoding": {"y": {"datum": 0.5, "type": "quantitative", "title": null, "axis": {"values": [0, 0.25, 0.5, 0.75, 1], "format": ".2f", "labelOverlap": false}}}}
                         ]},
                        {"title": {"text": "TCGA-LUAD", "anchor": "middle", "frame": "group", "fontSize": 11, "offset": 4}, "transform": [{"filter": "datum.cancer == 'TCGA-LUAD'"}], "width": 84, "height": 71,
                         "layer": [
                           {"mark": {"type": "area", "opacity": 0.9}, "encoding": {"x": {"field": "x", "type": "quantitative", "scale": {"nice": false, "zero": false, "padding": 4}, "axis": {"title": null, "values": [0, 0.1, 0.2], "format": ".1f", "grid": false}}, "y": {"field": "normal", "type": "quantitative", "title": null, "scale": {"domain": [-0.05, 1.05], "nice": false}, "axis": {"values": [0, 0.25, 0.5, 0.75, 1], "labels": false, "ticks": false}}, "y2": {"datum": 0}, "color": {"datum": "Normal", "type": "nominal"}}},
                           {"mark": {"type": "area", "opacity": 0.9}, "encoding": {"x": {"field": "x", "type": "quantitative"}, "y": {"field": "normal", "type": "quantitative", "title": null}, "y2": {"datum": 1}, "color": {"datum": "Tumor", "type": "nominal"}}},
                           {"mark": {"type": "line", "color": "#111111", "strokeWidth": 1}, "encoding": {"x": {"field": "x", "type": "quantitative"}, "y": {"field": "normal", "type": "quantitative", "title": null}}},
                           {"mark": {"type": "rule", "color": "#111111", "strokeDash": [4, 3], "strokeWidth": 1}, "encoding": {"y": {"datum": 0.5}}}
                         ]},
                        {"title": {"text": "TCGA-LUSC", "anchor": "middle", "frame": "group", "fontSize": 11, "offset": 4}, "transform": [{"filter": "datum.cancer == 'TCGA-LUSC'"}], "width": 84, "height": 71,
                         "layer": [
                           {"mark": {"type": "area", "opacity": 0.9}, "encoding": {"x": {"field": "x", "type": "quantitative", "scale": {"nice": false, "zero": false, "padding": 4}, "axis": {"title": null, "values": [0, 0.1, 0.2], "format": ".1f", "grid": false}}, "y": {"field": "normal", "type": "quantitative", "title": null, "scale": {"domain": [-0.05, 1.05], "nice": false}, "axis": {"values": [0, 0.25, 0.5, 0.75, 1], "labels": false, "ticks": false}}, "y2": {"datum": 0}, "color": {"datum": "Normal", "type": "nominal"}}},
                           {"mark": {"type": "area", "opacity": 0.9}, "encoding": {"x": {"field": "x", "type": "quantitative"}, "y": {"field": "normal", "type": "quantitative", "title": null}, "y2": {"datum": 1}, "color": {"datum": "Tumor", "type": "nominal"}}},
                           {"mark": {"type": "line", "color": "#111111", "strokeWidth": 1}, "encoding": {"x": {"field": "x", "type": "quantitative"}, "y": {"field": "normal", "type": "quantitative", "title": null}}},
                           {"mark": {"type": "rule", "color": "#111111", "strokeDash": [4, 3], "strokeWidth": 1}, "encoding": {"y": {"datum": 0.5}}}
                         ]}
                      ]
                    }
                  ]
                }
              ]
            }
          ]
        }
      ]
    },
    {
      "title": {"text": "(C)", "frame": "bounds", "offset": 2},
      "data": {"name": "C"},
      "vconcat": [
        {
          "title": {"text": "C-index", "orient": "left", "anchor": "middle", "fontSize": 11, "fontWeight": "normal", "offset": 2},
          "spacing": 4,
          "vconcat": [
            {
              "spacing": 5,
              "hconcat": [
                {"title": {"text": "TCGA-KIRC", "anchor": "middle", "frame": "group", "fontSize": 11, "offset": 4}, "transform": [{"filter": "datum.cancer == 'TCGA-KIRC'"}], "width": 194, "height": 142,
                 "encoding": {"x": {"field": "method", "type": "nominal", "sort": ["NN", "RSF", "SSVM"], "scale": {"paddingInner": 0, "paddingOuter": 0.1}, "axis": {"title": null, "labelAngle": 0, "grid": false, "labelPadding": 4}}},
                 "layer": [
                   {"transform": [{"filter": "datum.kind == 'box'"}], "mark": {"type": "rule", "color": "#333333", "strokeWidth": 1}, "encoding": {"xOffset": {"field": "Type", "type": "nominal", "scale": {"domain": ["Normal", "N|T", "Tumor", "T|O", "Expression ratio of DEGs (Calculated by own data)", "O|G", "Expression ratio of DEGs (Calculated by median)"], "paddingInner": 0, "paddingOuter": 1.48}}, "y": {"field": "min", "type": "quantitative", "title": null, "scale": {"domain": [0.135, 1.14], "nice": false, "zero": false}, "axis": {"values": [0.25, 0.375, 0.5, 0.625, 0.75, 0.875, 1], "format": ".3f", "labelOverlap": false}}, "y2": {"field": "max"}}},
                   {"transform": [{"filter": "datum.kind == 'box'"}], "mark": {"type": "bar", "width": 11.5, "stroke": "#333333", "strokeWidth": 1}, "encoding": {"xOffset": {"field": "Type", "type": "nominal"}, "y": {"field": "q1", "type": "quantitative", "title": null, "axis": {"values": [0.25, 0.375, 0.5, 0.625, 0.75, 0.875, 1], "format": ".3f", "labelOverlap": false}}, "y2": {"field": "q3"}, "color": {"field": "Type", "type": "nominal", "scale": {"domain": ["Normal", "Tumor", "Expression ratio of DEGs (Calculated by own data)", "Expression ratio of DEGs (Calculated by median)"], "range": ["#6badd8", "#f2585c", "#f9a937", "#7b7b7b"]}, "legend": {"title": "Type", "orient": "bottom", "direction": "horizontal", "titleOrient": "left", "symbolType": "square", "symbolSize": 170, "symbolStrokeColor": "#333333", "symbolStrokeWidth": 1, "labelFontSize": 11, "labelExpr": "split(replace(datum.label, ' (', '|('), '|')", "columnPadding": 8, "offset": 12}}}},
                   {"transform": [{"filter": "datum.kind == 'box'"}], "mark": {"type": "tick", "color": "#111111", "thickness": 2.5, "size": 11.5}, "encoding": {"xOffset": {"field": "Type", "type": "nominal"}, "y": {"field": "median", "type": "quantitative", "title": null, "axis": {"values": [0.25, 0.375, 0.5, 0.625, 0.75, 0.875, 1], "format": ".3f", "labelOverlap": false}}}},
                   {"transform": [{"filter": "datum.kind == 'box'"}], "mark": {"type": "point", "filled": true, "fill": "white", "stroke": "#111111", "strokeWidth": 0.8, "size": 16, "opacity": 1}, "encoding": {"xOffset": {"field": "Type", "type": "nominal"}, "y": {"field": "mean", "type": "quantitative", "title": null, "axis": {"values": [0.25, 0.375, 0.5, 0.625, 0.75, 0.875, 1], "format": ".3f", "labelOverlap": false}}}},
                   {"transform": [{"filter": "datum.kind == 'sig'"}, {"fold": ["from", "to"], "as": ["end", "endType"]}], "mark": {"type": "line", "color": "#333333", "strokeWidth": 0.8}, "encoding": {"xOffset": {"field": "endType", "type": "nominal"}, "y": {"field": "y", "type": "quantitative", "title": null, "axis": {"values": [0.25, 0.375, 0.5, 0.625, 0.75, 0.875, 1], "format": ".3f", "labelOverlap": false}}, "detail": {"field": "id", "type": "nominal"}}},
                   {"transform": [{"filter": "datum.kind == 'sig'"}], "mark": {"type": "text", "fontSize": 9, "baseline": "alphabetic", "dy": 3, "fill": "#222222"}, "encoding": {"xOffset": {"field": "mid", "type": "nominal"}, "y": {"field": "y", "type": "quantitative", "title": null, "axis": {"values": [0.25, 0.375, 0.5, 0.625, 0.75, 0.875, 1], "format": ".3f", "labelOverlap": false}}, "text": {"field": "label"}}}
                 ]},
                {"title": {"text": "TCGA-LIHC", "anchor": "middle", "frame": "group", "fontSize": 11, "offset": 4}, "transform": [{"filter": "datum.cancer == 'TCGA-LIHC'"}], "width": 194, "height": 142,
                 "encoding": {"x": {"field": "method", "type": "nominal", "sort": ["NN", "RSF", "SSVM"], "scale": {"paddingInner": 0, "paddingOuter": 0.1}, "axis": {"title": null, "labelAngle": 0, "grid": false, "labelPadding": 4}}},
                 "layer": [
                   {"transform": [{"filter": "datum.kind == 'box'"}], "mark": {"type": "rule", "color": "#333333", "strokeWidth": 1}, "encoding": {"xOffset": {"field": "Type", "type": "nominal", "scale": {"domain": ["Normal", "N|T", "Tumor", "T|O", "Expression ratio of DEGs (Calculated by own data)", "O|G", "Expression ratio of DEGs (Calculated by median)"], "paddingInner": 0, "paddingOuter": 1.48}}, "y": {"field": "min", "type": "quantitative", "title": null, "scale": {"domain": [0.135, 1.14], "nice": false, "zero": false}, "axis": {"values": [0.25, 0.375, 0.5, 0.625, 0.75, 0.875, 1], "labels": false, "ticks": false}}, "y2": {"field": "max"}}},
                   {"transform": [{"filter": "datum.kind == 'box'"}], "mark": {"type": "bar", "width": 11.5, "stroke": "#333333", "strokeWidth": 1}, "encoding": {"xOffset": {"field": "Type", "type": "nominal"}, "y": {"field": "q1", "type": "quantitative", "title": null}, "y2": {"field": "q3"}, "color": {"field": "Type", "type": "nominal"}}},
                   {"transform": [{"filter": "datum.kind == 'box'"}], "mark": {"type": "tick", "color": "#111111", "thickness": 2.5, "size": 11.5}, "encoding": {"xOffset": {"field": "Type", "type": "nominal"}, "y": {"field": "median", "type": "quantitative", "title": null}}},
                   {"transform": [{"filter": "datum.kind == 'box'"}], "mark": {"type": "point", "filled": true, "fill": "white", "stroke": "#111111", "strokeWidth": 0.8, "size": 16, "opacity": 1}, "encoding": {"xOffset": {"field": "Type", "type": "nominal"}, "y": {"field": "mean", "type": "quantitative", "title": null}}},
                   {"transform": [{"filter": "datum.kind == 'sig'"}, {"fold": ["from", "to"], "as": ["end", "endType"]}], "mark": {"type": "line", "color": "#333333", "strokeWidth": 0.8}, "encoding": {"xOffset": {"field": "endType", "type": "nominal"}, "y": {"field": "y", "type": "quantitative", "title": null}, "detail": {"field": "id", "type": "nominal"}}},
                   {"transform": [{"filter": "datum.kind == 'sig'"}], "mark": {"type": "text", "fontSize": 9, "baseline": "alphabetic", "dy": 3, "fill": "#222222"}, "encoding": {"xOffset": {"field": "mid", "type": "nominal"}, "y": {"field": "y", "type": "quantitative", "title": null}, "text": {"field": "label"}}}
                 ]},
                {"title": {"text": "TCGA-HNSC", "anchor": "middle", "frame": "group", "fontSize": 11, "offset": 4}, "transform": [{"filter": "datum.cancer == 'TCGA-HNSC'"}], "width": 194, "height": 142,
                 "encoding": {"x": {"field": "method", "type": "nominal", "sort": ["NN", "RSF", "SSVM"], "scale": {"paddingInner": 0, "paddingOuter": 0.1}, "axis": {"title": null, "labelAngle": 0, "grid": false, "labelPadding": 4}}},
                 "layer": [
                   {"transform": [{"filter": "datum.kind == 'box'"}], "mark": {"type": "rule", "color": "#333333", "strokeWidth": 1}, "encoding": {"xOffset": {"field": "Type", "type": "nominal", "scale": {"domain": ["Normal", "N|T", "Tumor", "T|O", "Expression ratio of DEGs (Calculated by own data)", "O|G", "Expression ratio of DEGs (Calculated by median)"], "paddingInner": 0, "paddingOuter": 1.48}}, "y": {"field": "min", "type": "quantitative", "title": null, "scale": {"domain": [0.135, 1.14], "nice": false, "zero": false}, "axis": {"values": [0.25, 0.375, 0.5, 0.625, 0.75, 0.875, 1], "labels": false, "ticks": false}}, "y2": {"field": "max"}}},
                   {"transform": [{"filter": "datum.kind == 'box'"}], "mark": {"type": "bar", "width": 11.5, "stroke": "#333333", "strokeWidth": 1}, "encoding": {"xOffset": {"field": "Type", "type": "nominal"}, "y": {"field": "q1", "type": "quantitative", "title": null}, "y2": {"field": "q3"}, "color": {"field": "Type", "type": "nominal"}}},
                   {"transform": [{"filter": "datum.kind == 'box'"}], "mark": {"type": "tick", "color": "#111111", "thickness": 2.5, "size": 11.5}, "encoding": {"xOffset": {"field": "Type", "type": "nominal"}, "y": {"field": "median", "type": "quantitative", "title": null}}},
                   {"transform": [{"filter": "datum.kind == 'box'"}], "mark": {"type": "point", "filled": true, "fill": "white", "stroke": "#111111", "strokeWidth": 0.8, "size": 16, "opacity": 1}, "encoding": {"xOffset": {"field": "Type", "type": "nominal"}, "y": {"field": "mean", "type": "quantitative", "title": null}}},
                   {"transform": [{"filter": "datum.kind == 'sig'"}, {"fold": ["from", "to"], "as": ["end", "endType"]}], "mark": {"type": "line", "color": "#333333", "strokeWidth": 0.8}, "encoding": {"xOffset": {"field": "endType", "type": "nominal"}, "y": {"field": "y", "type": "quantitative", "title": null}, "detail": {"field": "id", "type": "nominal"}}},
                   {"transform": [{"filter": "datum.kind == 'sig'"}], "mark": {"type": "text", "fontSize": 9, "baseline": "alphabetic", "dy": 3, "fill": "#222222"}, "encoding": {"xOffset": {"field": "mid", "type": "nominal"}, "y": {"field": "y", "type": "quantitative", "title": null}, "text": {"field": "label"}}}
                 ]}
              ]
            },
            {
              "spacing": 5,
              "hconcat": [
                {"title": {"text": "TCGA-BRCA", "anchor": "middle", "frame": "group", "fontSize": 11, "offset": 4}, "transform": [{"filter": "datum.cancer == 'TCGA-BRCA'"}], "width": 194, "height": 142,
                 "encoding": {"x": {"field": "method", "type": "nominal", "sort": ["NN", "RSF", "SSVM"], "scale": {"paddingInner": 0, "paddingOuter": 0.1}, "axis": {"title": null, "labelAngle": 0, "grid": false, "labelPadding": 4}}},
                 "layer": [
                   {"transform": [{"filter": "datum.kind == 'box'"}], "mark": {"type": "rule", "color": "#333333", "strokeWidth": 1}, "encoding": {"xOffset": {"field": "Type", "type": "nominal", "scale": {"domain": ["Normal", "N|T", "Tumor", "T|O", "Expression ratio of DEGs (Calculated by own data)", "O|G", "Expression ratio of DEGs (Calculated by median)"], "paddingInner": 0, "paddingOuter": 1.48}}, "y": {"field": "min", "type": "quantitative", "title": null, "scale": {"domain": [0.135, 1.14], "nice": false, "zero": false}, "axis": {"values": [0.25, 0.375, 0.5, 0.625, 0.75, 0.875, 1], "format": ".3f", "labelOverlap": false}}, "y2": {"field": "max"}}},
                   {"transform": [{"filter": "datum.kind == 'box'"}], "mark": {"type": "bar", "width": 11.5, "stroke": "#333333", "strokeWidth": 1}, "encoding": {"xOffset": {"field": "Type", "type": "nominal"}, "y": {"field": "q1", "type": "quantitative", "title": null, "axis": {"values": [0.25, 0.375, 0.5, 0.625, 0.75, 0.875, 1], "format": ".3f", "labelOverlap": false}}, "y2": {"field": "q3"}, "color": {"field": "Type", "type": "nominal"}}},
                   {"transform": [{"filter": "datum.kind == 'box'"}], "mark": {"type": "tick", "color": "#111111", "thickness": 2.5, "size": 11.5}, "encoding": {"xOffset": {"field": "Type", "type": "nominal"}, "y": {"field": "median", "type": "quantitative", "title": null, "axis": {"values": [0.25, 0.375, 0.5, 0.625, 0.75, 0.875, 1], "format": ".3f", "labelOverlap": false}}}},
                   {"transform": [{"filter": "datum.kind == 'box'"}], "mark": {"type": "point", "filled": true, "fill": "white", "stroke": "#111111", "strokeWidth": 0.8, "size": 16, "opacity": 1}, "encoding": {"xOffset": {"field": "Type", "type": "nominal"}, "y": {"field": "mean", "type": "quantitative", "title": null, "axis": {"values": [0.25, 0.375, 0.5, 0.625, 0.75, 0.875, 1], "format": ".3f", "labelOverlap": false}}}},
                   {"transform": [{"filter": "datum.kind == 'sig'"}, {"fold": ["from", "to"], "as": ["end", "endType"]}], "mark": {"type": "line", "color": "#333333", "strokeWidth": 0.8}, "encoding": {"xOffset": {"field": "endType", "type": "nominal"}, "y": {"field": "y", "type": "quantitative", "title": null, "axis": {"values": [0.25, 0.375, 0.5, 0.625, 0.75, 0.875, 1], "format": ".3f", "labelOverlap": false}}, "detail": {"field": "id", "type": "nominal"}}},
                   {"transform": [{"filter": "datum.kind == 'sig'"}], "mark": {"type": "text", "fontSize": 9, "baseline": "alphabetic", "dy": 3, "fill": "#222222"}, "encoding": {"xOffset": {"field": "mid", "type": "nominal"}, "y": {"field": "y", "type": "quantitative", "title": null, "axis": {"values": [0.25, 0.375, 0.5, 0.625, 0.75, 0.875, 1], "format": ".3f", "labelOverlap": false}}, "text": {"field": "label"}}}
                 ]},
                {"title": {"text": "TCGA-LUAD", "anchor": "middle", "frame": "group", "fontSize": 11, "offset": 4}, "transform": [{"filter": "datum.cancer == 'TCGA-LUAD'"}], "width": 194, "height": 142,
                 "encoding": {"x": {"field": "method", "type": "nominal", "sort": ["NN", "RSF", "SSVM"], "scale": {"paddingInner": 0, "paddingOuter": 0.1}, "axis": {"title": null, "labelAngle": 0, "grid": false, "labelPadding": 4}}},
                 "layer": [
                   {"transform": [{"filter": "datum.kind == 'box'"}], "mark": {"type": "rule", "color": "#333333", "strokeWidth": 1}, "encoding": {"xOffset": {"field": "Type", "type": "nominal", "scale": {"domain": ["Normal", "N|T", "Tumor", "T|O", "Expression ratio of DEGs (Calculated by own data)", "O|G", "Expression ratio of DEGs (Calculated by median)"], "paddingInner": 0, "paddingOuter": 1.48}}, "y": {"field": "min", "type": "quantitative", "title": null, "scale": {"domain": [0.135, 1.14], "nice": false, "zero": false}, "axis": {"values": [0.25, 0.375, 0.5, 0.625, 0.75, 0.875, 1], "labels": false, "ticks": false}}, "y2": {"field": "max"}}},
                   {"transform": [{"filter": "datum.kind == 'box'"}], "mark": {"type": "bar", "width": 11.5, "stroke": "#333333", "strokeWidth": 1}, "encoding": {"xOffset": {"field": "Type", "type": "nominal"}, "y": {"field": "q1", "type": "quantitative", "title": null}, "y2": {"field": "q3"}, "color": {"field": "Type", "type": "nominal"}}},
                   {"transform": [{"filter": "datum.kind == 'box'"}], "mark": {"type": "tick", "color": "#111111", "thickness": 2.5, "size": 11.5}, "encoding": {"xOffset": {"field": "Type", "type": "nominal"}, "y": {"field": "median", "type": "quantitative", "title": null}}},
                   {"transform": [{"filter": "datum.kind == 'box'"}], "mark": {"type": "point", "filled": true, "fill": "white", "stroke": "#111111", "strokeWidth": 0.8, "size": 16, "opacity": 1}, "encoding": {"xOffset": {"field": "Type", "type": "nominal"}, "y": {"field": "mean", "type": "quantitative", "title": null}}},
                   {"transform": [{"filter": "datum.kind == 'sig'"}, {"fold": ["from", "to"], "as": ["end", "endType"]}], "mark": {"type": "line", "color": "#333333", "strokeWidth": 0.8}, "encoding": {"xOffset": {"field": "endType", "type": "nominal"}, "y": {"field": "y", "type": "quantitative", "title": null}, "detail": {"field": "id", "type": "nominal"}}},
                   {"transform": [{"filter": "datum.kind == 'sig'"}], "mark": {"type": "text", "fontSize": 9, "baseline": "alphabetic", "dy": 3, "fill": "#222222"}, "encoding": {"xOffset": {"field": "mid", "type": "nominal"}, "y": {"field": "y", "type": "quantitative", "title": null}, "text": {"field": "label"}}}
                 ]},
                {"title": {"text": "TCGA-LUSC", "anchor": "middle", "frame": "group", "fontSize": 11, "offset": 4}, "transform": [{"filter": "datum.cancer == 'TCGA-LUSC'"}], "width": 194, "height": 142,
                 "encoding": {"x": {"field": "method", "type": "nominal", "sort": ["NN", "RSF", "SSVM"], "scale": {"paddingInner": 0, "paddingOuter": 0.1}, "axis": {"title": null, "labelAngle": 0, "grid": false, "labelPadding": 4}}},
                 "layer": [
                   {"transform": [{"filter": "datum.kind == 'box'"}], "mark": {"type": "rule", "color": "#333333", "strokeWidth": 1}, "encoding": {"xOffset": {"field": "Type", "type": "nominal", "scale": {"domain": ["Normal", "N|T", "Tumor", "T|O", "Expression ratio of DEGs (Calculated by own data)", "O|G", "Expression ratio of DEGs (Calculated by median)"], "paddingInner": 0, "paddingOuter": 1.48}}, "y": {"field": "min", "type": "quantitative", "title": null, "scale": {"domain": [0.135, 1.14], "nice": false, "zero": false}, "axis": {"values": [0.25, 0.375, 0.5, 0.625, 0.75, 0.875, 1], "labels": false, "ticks": false}}, "y2": {"field": "max"}}},
                   {"transform": [{"filter": "datum.kind == 'box'"}], "mark": {"type": "bar", "width": 11.5, "stroke": "#333333", "strokeWidth": 1}, "encoding": {"xOffset": {"field": "Type", "type": "nominal"}, "y": {"field": "q1", "type": "quantitative", "title": null}, "y2": {"field": "q3"}, "color": {"field": "Type", "type": "nominal"}}},
                   {"transform": [{"filter": "datum.kind == 'box'"}], "mark": {"type": "tick", "color": "#111111", "thickness": 2.5, "size": 11.5}, "encoding": {"xOffset": {"field": "Type", "type": "nominal"}, "y": {"field": "median", "type": "quantitative", "title": null}}},
                   {"transform": [{"filter": "datum.kind == 'box'"}], "mark": {"type": "point", "filled": true, "fill": "white", "stroke": "#111111", "strokeWidth": 0.8, "size": 16, "opacity": 1}, "encoding": {"xOffset": {"field": "Type", "type": "nominal"}, "y": {"field": "mean", "type": "quantitative", "title": null}}},
                   {"transform": [{"filter": "datum.kind == 'sig'"}, {"fold": ["from", "to"], "as": ["end", "endType"]}], "mark": {"type": "line", "color": "#333333", "strokeWidth": 0.8}, "encoding": {"xOffset": {"field": "endType", "type": "nominal"}, "y": {"field": "y", "type": "quantitative", "title": null}, "detail": {"field": "id", "type": "nominal"}}},
                   {"transform": [{"filter": "datum.kind == 'sig'"}], "mark": {"type": "text", "fontSize": 9, "baseline": "alphabetic", "dy": 3, "fill": "#222222"}, "encoding": {"xOffset": {"field": "mid", "type": "nominal"}, "y": {"field": "y", "type": "quantitative", "title": null}, "text": {"field": "label"}}}
                 ]}
              ]
            }
          ]
        }
      ]
    }
  ]
}
